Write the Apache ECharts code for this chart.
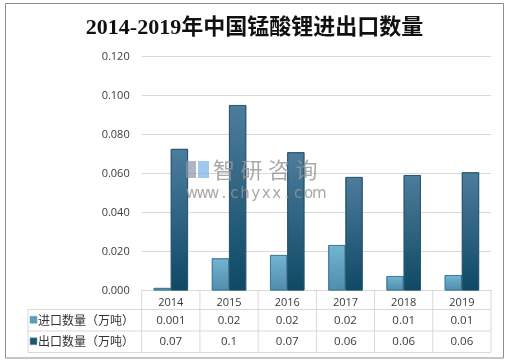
<!DOCTYPE html>
<html><head><meta charset="utf-8">
<script src="https://cdn.jsdelivr.net/npm/echarts@6/dist/echarts.min.js"></script>
<style>html,body{margin:0;padding:0;background:#fff}#c{width:509px;height:364px}</style>
</head><body><div id="c"></div>
<script>
var titleText = '2014-2019年中国锰酸锂进出口数量';
var years = ['2014','2015','2016','2017','2018','2019'];
var seriesNames = ['进口数量（万吨）','出口数量（万吨）'];
var importVals = [0.0013, 0.0165, 0.0182, 0.0233, 0.0074, 0.0079];
var exportVals = [0.0726, 0.0951, 0.0709, 0.0582, 0.0592, 0.0606];
var importLabels = ['0.001','0.02','0.02','0.02','0.01','0.01'];
var exportLabels = ['0.07','0.1','0.07','0.06','0.06','0.06'];
var watermarkCn = '智研咨询';
var watermarkUrl = 'www.chyxx.com';

var chart = echarts.init(document.getElementById('c'));
var gridL = 141.7, gridR = 18, gridT = 56.5, gridB = 73.5;
var lineColor = '#d9d9d9';
var txtColor = '#3a3a3a';
var importColor = new echarts.graphic.LinearGradient(0,0,0,1,[{offset:0,color:'#74b5d3'},{offset:1,color:'#4e8dab'}]);
var exportColor = new echarts.graphic.LinearGradient(0,0,0,1,[{offset:0,color:'#4d7c9d'},{offset:1,color:'#0e4964'}]);

var option = {
  animation:false,
  title:{text:titleText,left:'center',top:12,textStyle:{fontFamily:'"Liberation Serif","DejaVu Serif","Noto Sans CJK SC",serif',fontWeight:'bold',fontSize:22,color:'#111'}},
  grid:{left:gridL,right:gridR,top:gridT,bottom:gridB,containLabel:false},
  xAxis:{type:'category',data:years,
    axisLine:{show:true,lineStyle:{color:lineColor}},axisTick:{show:false},
    axisLabel:{show:true,color:txtColor,fontSize:11,fontFamily:'"Open Sans",sans-serif',margin:7}},
  yAxis:{type:'value',min:0,max:0.12,interval:0.02,
    axisLine:{show:false},axisTick:{show:false},
    splitLine:{lineStyle:{color:lineColor}},
    axisLabel:{color:txtColor,fontSize:11,fontFamily:'"Open Sans",sans-serif',margin:12,
      formatter:function(v){return v.toFixed(3);}}},
  series:[
    {name:seriesNames[0],type:'bar',data:importVals,barGap:'0%',barCategoryGap:'41%',
      itemStyle:{color:importColor,borderColor:'#3d7895',borderWidth:0.8}},
    {name:seriesNames[1],type:'bar',data:exportVals,
      itemStyle:{color:exportColor,borderColor:'#25536b',borderWidth:0.8}}
  ]
};
chart.setOption(option);

var g = [];
var n = years.length;
var c0 = chart.convertToPixel({xAxisIndex:0}, 0);
var c1 = chart.convertToPixel({xAxisIndex:0}, 1);
var cw = c1 - c0;
var x0 = c0 - cw/2, x1 = x0 + cw*n;
var yAxisY = chart.convertToPixel({yAxisIndex:0}, 0);
var rowY = [yAxisY, 309.5, 331, 352.5];
var labelL = 28;
for (var k=1;k<=3;k++){
  g.push({type:'line',shape:{x1:labelL,y1:rowY[k],x2:x1,y2:rowY[k]},style:{stroke:lineColor,lineWidth:1}});
}
g.push({type:'line',shape:{x1:labelL,y1:rowY[1],x2:labelL,y2:rowY[3]},style:{stroke:lineColor,lineWidth:1}});
for (var i=0;i<=n;i++){
  var xx = x0 + cw*i;
  g.push({type:'line',shape:{x1:xx,y1:rowY[0],x2:xx,y2:rowY[3]},style:{stroke:lineColor,lineWidth:1}});
}
var rowsLabels=[importLabels,exportLabels];
var markColors=['#5c9dbd','#1f5773'];
for (var r=0;r<2;r++){
  var cy=(rowY[r+1]+rowY[r+2])/2;
  g.push({type:'rect',shape:{x:30,y:cy-4,width:7,height:7},style:{fill:markColors[r],stroke:'#7a9aab',lineWidth:0.5}});
  g.push({type:'text',style:{x:38,y:cy,text:seriesNames[r],fill:'#333',font:'12px "Noto Sans CJK SC",sans-serif',textVerticalAlign:'middle',verticalAlign:'middle'}});
  for (var i=0;i<n;i++){
    var cx = chart.convertToPixel({xAxisIndex:0}, i);
    g.push({type:'text',style:{x:cx,y:cy,text:rowsLabels[r][i],fill:txtColor,font:'11.5px "Open Sans",sans-serif',textAlign:'center',align:'center',verticalAlign:'middle',textVerticalAlign:'middle'}});
  }
}
// watermark (overlaid on bars, separate layer)
var wmZL = 1;
var wmFill = 'rgba(150,150,150,0.82)';
g.push({type:'rect',zlevel:wmZL,shape:{x:186,y:161,width:10,height:17},style:{fill:'rgba(140,150,170,0.7)'}});
g.push({type:'rect',zlevel:wmZL,shape:{x:198,y:161,width:11,height:17},style:{fill:'rgba(120,180,230,0.7)'}});
for (var j=0;j<watermarkCn.length;j++){
  g.push({type:'text',zlevel:wmZL,style:{x:213+j*27.5,y:169.5,text:watermarkCn[j],fill:wmFill,font:'22px "Noto Sans CJK SC",sans-serif',verticalAlign:'middle',textVerticalAlign:'middle'}});
}
for (var j=0;j<watermarkUrl.length;j++){
  g.push({type:'text',zlevel:wmZL,style:{x:192+j*10.6,y:194,text:watermarkUrl[j],fill:wmFill,font:'15px "DejaVu Sans",sans-serif',textAlign:'center',align:'center',verticalAlign:'middle',textVerticalAlign:'middle'}});
}
g.push({type:'rect',zlevel:wmZL,shape:{x:5.5,y:3.5,width:498,height:354.5},style:{fill:'none',stroke:'#8c8c8c',lineWidth:1}});
chart.setOption({graphic:g});
</script></body></html>
